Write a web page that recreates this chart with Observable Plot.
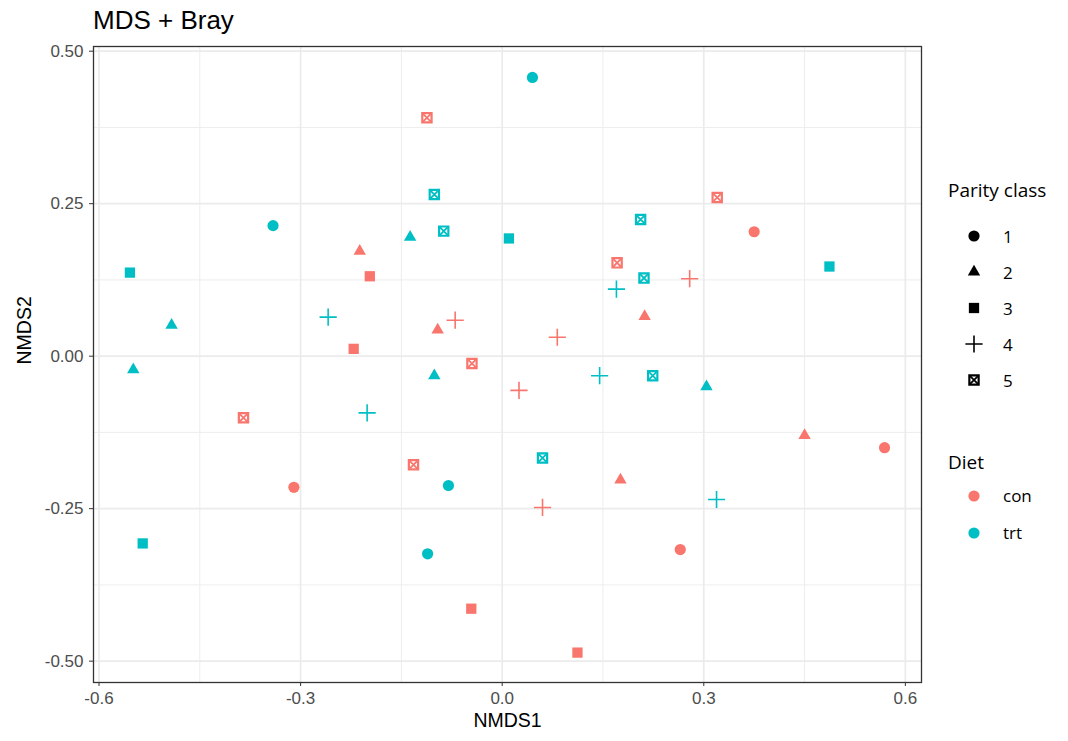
<!DOCTYPE html>
<html>
<head>
<meta charset="utf-8">
<script src="https://cdn.jsdelivr.net/npm/d3@7"></script>
<script src="https://cdn.jsdelivr.net/npm/@observablehq/plot@0.6"></script>
<style>
  html, body { margin: 0; padding: 0; background: #fff; }
  body { font-family: "Liberation Sans", Arial, sans-serif; }
  #page { position: relative; width: 1068px; height: 741px; overflow: hidden; }
  #title { position: absolute; left: 93px; top: 0; height: 40px; line-height: 40px; font-size: 26px; color: #000; }
  #chart { position: absolute; left: 0; top: 40px; }
  #legend { position: absolute; left: 948px; top: 178px; color: #000; font-family: "Open Sans", "Liberation Sans", sans-serif; }
  .ltitle { font-size: 19px; line-height: 24px; height: 24px; white-space: nowrap; }
  .row { display: flex; align-items: center; height: 36px; }
  .row svg { margin-left: 14px; }
  .row span { margin-left: 17px; font-size: 17px; }
</style>
</head>
<body>
<div id="page">
  <div id="title">MDS + Bray</div>
  <div id="chart"></div>
  <div id="legend"></div>
</div>
<script>
// ---- data ----
const diet = [
  "con","con","con","con",
  "trt","trt","trt","trt",
  "con","con","con","con","con",
  "trt","trt","trt","trt","trt",
  "con","con","con","con",
  "trt","trt","trt","trt",
  "con","con","con","con","con",
  "trt","trt","trt","trt","trt",
  "con","con","con","con","con","con",
  "trt","trt","trt","trt","trt","trt"
];
const parity = [
  1,1,1,1,
  1,1,1,1,
  2,2,2,2,2,
  2,2,2,2,2,
  3,3,3,3,
  3,3,3,3,
  4,4,4,4,4,
  4,4,4,4,4,
  5,5,5,5,5,5,
  5,5,5,5,5,5
];
const nmds1 = [
  0.375, 0.569, -0.310, 0.265,
  0.045, -0.341, -0.080, -0.111,
  -0.212, -0.096, 0.212, 0.450, 0.176,
  -0.137, -0.492, -0.549, -0.101, 0.304,
  -0.197, -0.221, -0.046, 0.112,
  -0.554, 0.010, 0.487, -0.535,
  -0.070, 0.082, 0.279, 0.025, 0.060,
  -0.259, 0.170, 0.145, -0.201, 0.319,
  -0.112, 0.320, 0.171, -0.045, -0.385, -0.132,
  -0.101, -0.087, 0.206, 0.211, 0.224, 0.060
];
const nmds2 = [
  0.204, -0.150, -0.215, -0.317,
  0.457, 0.214, -0.212, -0.324,
  0.172, 0.043, 0.065, -0.130, -0.203,
  0.195, 0.051, -0.022, -0.032, -0.050,
  0.131, 0.012, -0.414, -0.486,
  0.137, 0.193, 0.147, -0.307,
  0.059, 0.031, 0.127, -0.056, -0.248,
  0.064, 0.110, -0.032, -0.093, -0.235,
  0.391, 0.260, 0.153, -0.012, -0.101, -0.178,
  0.265, 0.205, 0.224, 0.128, -0.032, -0.167
];
const dietLevels = ["con", "trt"];
const dietColors = ["#F8766D", "#00BFC4"];
const parityLevels = [1, 2, 3, 4, 5];
const xTicks = [-0.6, -0.3, 0, 0.3, 0.6];
const xMinor = [-0.45, -0.15, 0.15, 0.45];
const yTicks = [-0.5, -0.25, 0, 0.25, 0.5];
const yMinor = [-0.375, -0.125, 0.125, 0.375];

const data = nmds1.map((x, i) => ({x, y: nmds2[i], diet: diet[i], parity: parity[i]}));
const byP = p => data.filter(d => d.parity === p);

const chart = Plot.plot({
  width: 935,
  height: 701,
  marginTop: 6,
  marginLeft: 93,
  marginRight: 14,
  marginBottom: 59,
  style: {fontFamily: "'Liberation Sans', Arial, sans-serif", background: "#fff"},
  x: {domain: [-0.6082, 0.624], label: null},
  y: {domain: [-0.535, 0.5077], label: null},
  color: {domain: dietLevels, range: dietColors},
  marks: [
    Plot.ruleX(xMinor, {stroke: "#ebebeb", strokeWidth: 0.9}),
    Plot.ruleY(yMinor, {stroke: "#ebebeb", strokeWidth: 0.9}),
    Plot.ruleX(xTicks, {stroke: "#ebebeb", strokeWidth: 1.7}),
    Plot.ruleY(yTicks, {stroke: "#ebebeb", strokeWidth: 1.7}),
    Plot.frame({stroke: "#333333", strokeWidth: 1.3}),
    Plot.axisX({ticks: xTicks, tickFormat: d => d.toFixed(1), tickSize: 4, tickPadding: 5,
      fontSize: 17, color: "#4d4d4d", stroke: "#333333", label: null}),
    Plot.axisY({ticks: yTicks, tickFormat: d => d.toFixed(2), tickSize: 4, tickPadding: 6,
      fontSize: 17, color: "#4d4d4d", stroke: "#333333", label: null}),
    Plot.text(["NMDS1"], {frameAnchor: "bottom", dy: 44, fontSize: 19.5, fill: "#000"}),
    Plot.text(["NMDS2"], {frameAnchor: "left", dx: -69, rotate: -90, fontSize: 19.5, fill: "#000"}),
    // parity 1: filled circle
    Plot.dot(byP(1), {x: "x", y: "y", fill: "diet", symbol: "circle", r: 5.6, stroke: null}),
    // parity 2: filled triangle
    Plot.dot(byP(2), {x: "x", y: "y", fill: "diet", symbol: "triangle", r: 4.6, stroke: null}),
    // parity 3: filled square
    Plot.dot(byP(3), {x: "x", y: "y", fill: "diet", symbol: "square", r: 5.8, stroke: null}),
    // parity 4: plus
    Plot.dot(byP(4), {x: "x", y: "y", stroke: "diet", symbol: "plus", r: 5.6, strokeWidth: 1.6, fill: "none"}),
    // parity 5: square with cross
    Plot.dot(byP(5), {x: "x", y: "y", stroke: "diet", symbol: "square2", r: 5.9, strokeWidth: 2.2, fill: "none"}),
    Plot.dot(byP(5), {x: "x", y: "y", stroke: "diet", symbol: "times", r: 4.3, strokeWidth: 1.8, fill: "none"})
  ]
});
document.getElementById("chart").appendChild(chart);

// ---- legend (HTML) ----
function sym(type, r, color) {
  const svg = d3.create("svg").attr("width", 24).attr("height", 24);
  const g = svg.append("g").attr("transform", "translate(12,12)");
  const add = (t, rr, sw) => {
    const p = g.append("path").attr("d", d3.symbol(t, Math.PI * rr * rr)());
    if (sw) p.attr("fill", "none").attr("stroke", color).attr("stroke-width", sw);
    else p.attr("fill", color);
  };
  if (type === 1) add(d3.symbolCircle, r);
  if (type === 2) add(d3.symbolTriangle, 4.6);
  if (type === 3) add(d3.symbolSquare, 5.8);
  if (type === 4) add(d3.symbolPlus, 5.6, 1.6);
  if (type === 5) { add(d3.symbolSquare2, 5.9, 2.2); add(d3.symbolTimes, 4.3, 1.8); }
  return svg.node();
}
const legend = d3.select("#legend");
legend.append("div").attr("class", "ltitle").text("Parity class");
const pbox = legend.append("div").style("margin-top", "16px");
parityLevels.forEach(p => {
  const row = pbox.append("div").attr("class", "row");
  row.node().appendChild(sym(p, 5.6, "#000"));
  row.append("span").text(p);
});
legend.append("div").attr("class", "ltitle").style("margin-top", "52px").text("Diet");
const dbox = legend.append("div").style("margin-top", "3px");
dietLevels.forEach((d, i) => {
  const row = dbox.append("div").attr("class", "row").style("height", "37px");
  row.node().appendChild(sym(1, 5.6, dietColors[i]));
  row.append("span").text(d);
});
</script>
</body>
</html>
